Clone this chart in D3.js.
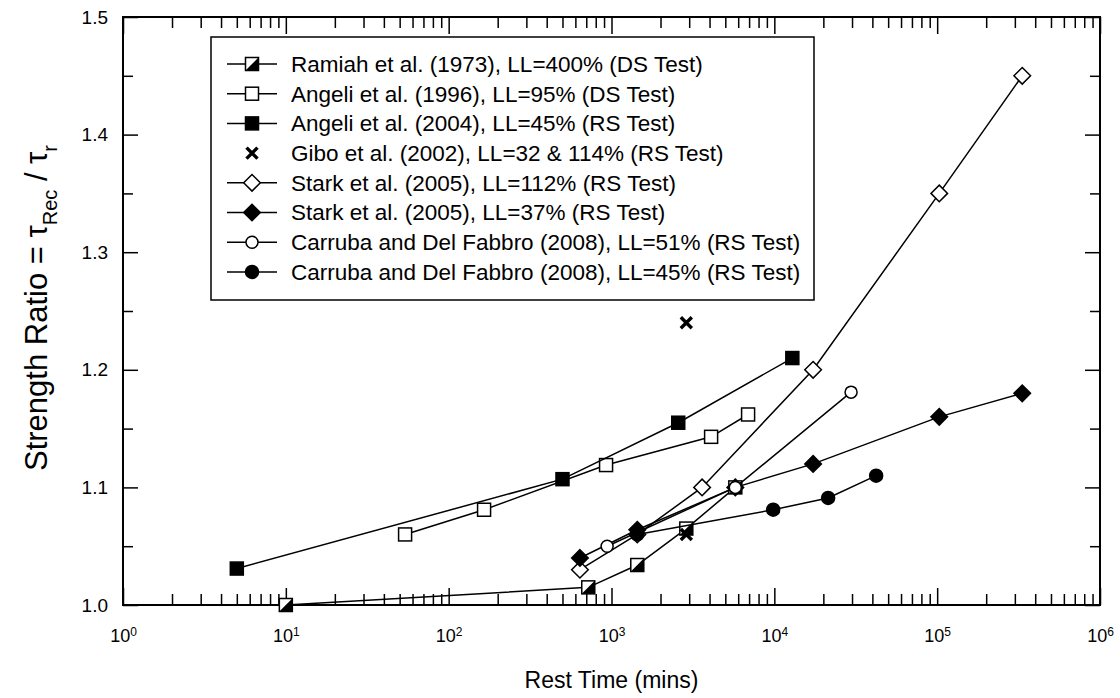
<!DOCTYPE html>
<html>
<head>
<meta charset="utf-8">
<script src="https://cdn.jsdelivr.net/npm/d3@7"></script>
<style>
    body { margin: 0; background: #fff; }
    svg { font-family: "Liberation Sans", Arial, sans-serif; }
</style>
</head>
<body>
<svg id="chart" width="1120" height="698"></svg>
<script>
// rest time (mins) and strength ratio
const ramiahX = [10, 720, 1440, 2880, 5760];
const ramiahY = [1.0, 1.015, 1.034, 1.065, 1.1];
const angeli96X = [54, 165, 926, 4090, 6900];
const angeli96Y = [1.06, 1.081, 1.119, 1.143, 1.162];
const angeli04X = [5, 500, 2570, 12900];
const angeli04Y = [1.031, 1.107, 1.155, 1.21];
const giboX = [2880, 2880];
const giboY = [1.24, 1.06];
const starkOpenX = [640, 1440, 3600, 17300, 103000, 333000];
const starkOpenY = [1.03, 1.06, 1.1, 1.2, 1.35, 1.45];
const starkFillX = [640, 1440, 5760, 17300, 103000, 333000];
const starkFillY = [1.04, 1.064, 1.1, 1.12, 1.16, 1.18];
const carrOpenX = [940, 5760, 29600];
const carrOpenY = [1.05, 1.1, 1.181];
const carrFillX = [1440, 9840, 21400, 42200];
const carrFillY = [1.06, 1.081, 1.091, 1.11];

const legendLabels = [
    'Ramiah et al. (1973), LL=400% (DS Test)',
    'Angeli et al. (1996), LL=95% (DS Test)',
    'Angeli et al. (2004), LL=45% (RS Test)',
    'Gibo et al. (2002), LL=32 & 114% (RS Test)',
    'Stark et al. (2005), LL=112% (RS Test)',
    'Stark et al. (2005), LL=37% (RS Test)',
    'Carruba and Del Fabbro (2008), LL=51% (RS Test)',
    'Carruba and Del Fabbro (2008), LL=45% (RS Test)'
];
const markerTypes = ['halfsquare', 'opensquare', 'fillsquare', 'cross', 'opendiamond', 'filldiamond', 'opencircle', 'fillcircle'];

const yTicks = [1.0, 1.1, 1.2, 1.3, 1.4, 1.5];
const yMinorTicks = [1.05, 1.15, 1.25, 1.35, 1.45];
const xTicks = [1, 10, 100, 1000, 10000, 100000, 1000000];

const zip = (xs, ys) => xs.map((v, i) => [v, ys[i]]);
const series = [
    { pts: zip(ramiahX, ramiahY), line: true },
    { pts: zip(angeli96X, angeli96Y), line: true },
    { pts: zip(angeli04X, angeli04Y), line: true },
    { pts: zip(giboX, giboY), line: false },
    { pts: zip(starkOpenX, starkOpenY), line: true },
    { pts: zip(starkFillX, starkFillY), line: true },
    { pts: zip(carrOpenX, carrOpenY), line: true },
    { pts: zip(carrFillX, carrFillY), line: true }
];

const svg = d3.select('#chart');
const plotLeft = 123, plotRight = 1100, plotTop = 17, plotBottom = 605;

const x = d3.scaleLog().domain([1, 1e6]).range([plotLeft, plotRight]);
const y = d3.scaleLinear().domain([1.0, 1.5]).range([plotBottom, plotTop]);

// minor x ticks 2..9 in every decade
const xMinorTicks = [];
for (let e = 0; e < 6; e++) {
    for (let k = 2; k <= 9; k++) xMinorTicks.push(k * Math.pow(10, e));
}

function styleAxis(g) {
    g.select('.domain').remove();
    g.selectAll('line').attr('stroke', '#000').attr('stroke-width', 1.5);
}

// bottom axis with 10^n labels
svg.append('g')
    .attr('transform', `translate(0,${plotBottom})`)
    .call(d3.axisBottom(x).tickValues(xTicks).tickSizeInner(-17).tickSizeOuter(0).tickPadding(24).tickFormat(''))
    .call(styleAxis)
    .selectAll('.tick text')
    .attr('font-size', 18)
    .attr('fill', '#000')
    .each(function (d) {
        const t = d3.select(this);
        t.text('10');
        t.append('tspan').attr('font-size', 12).attr('dy', '-0.5em').text(Math.round(Math.log10(d)));
    });
svg.append('g')
    .attr('transform', `translate(0,${plotBottom})`)
    .call(d3.axisBottom(x).tickValues(xMinorTicks).tickSizeInner(-11).tickSizeOuter(0).tickFormat(''))
    .call(styleAxis);

// top axis
svg.append('g')
    .attr('transform', `translate(0,${plotTop})`)
    .call(d3.axisTop(x).tickValues(xTicks).tickSizeInner(-17).tickSizeOuter(0).tickFormat(''))
    .call(styleAxis);
svg.append('g')
    .attr('transform', `translate(0,${plotTop})`)
    .call(d3.axisTop(x).tickValues(xMinorTicks).tickSizeInner(-11).tickSizeOuter(0).tickFormat(''))
    .call(styleAxis);

// left axis
svg.append('g')
    .attr('transform', `translate(${plotLeft},0)`)
    .call(d3.axisLeft(y).tickValues(yTicks).tickSizeInner(-15).tickSizeOuter(0).tickPadding(15).tickFormat(d3.format('.1f')))
    .call(styleAxis)
    .selectAll('.tick text')
    .attr('font-size', 19)
    .attr('fill', '#000');
svg.append('g')
    .attr('transform', `translate(${plotLeft},0)`)
    .call(d3.axisLeft(y).tickValues(yMinorTicks).tickSizeInner(-10).tickSizeOuter(0).tickFormat(''))
    .call(styleAxis);

// right axis
svg.append('g')
    .attr('transform', `translate(${plotRight},0)`)
    .call(d3.axisRight(y).tickValues(yTicks).tickSizeInner(-15).tickSizeOuter(0).tickFormat(''))
    .call(styleAxis);
svg.append('g')
    .attr('transform', `translate(${plotRight},0)`)
    .call(d3.axisRight(y).tickValues(yMinorTicks).tickSizeInner(-10).tickSizeOuter(0).tickFormat(''))
    .call(styleAxis);

// frame
svg.append('rect')
    .attr('x', plotLeft).attr('y', plotTop)
    .attr('width', plotRight - plotLeft).attr('height', plotBottom - plotTop)
    .attr('fill', 'none').attr('stroke', '#000').attr('stroke-width', 2);

// draw one marker of a given type at (cx, cy)
function drawMarker(g, type, cx, cy) {
    const m = g.append('g').attr('transform', `translate(${cx},${cy})`);
    const s = 6.5;
    if (type === 'halfsquare') {
        m.append('rect').attr('x', -s).attr('y', -s).attr('width', 2 * s).attr('height', 2 * s)
            .attr('fill', '#fff').attr('stroke', '#000').attr('stroke-width', 1.5);
        m.append('path').attr('d', `M${s},${-s}L${s},${s}L${-s},${s}Z`).attr('fill', '#000');
    } else if (type === 'opensquare' || type === 'fillsquare') {
        m.append('rect').attr('x', -s).attr('y', -s).attr('width', 2 * s).attr('height', 2 * s)
            .attr('fill', type === 'fillsquare' ? '#000' : '#fff').attr('stroke', '#000').attr('stroke-width', 1.5);
    } else if (type === 'cross') {
        const c = 5.5;
        m.append('path').attr('d', `M${-c},${-c}L${c},${c}M${-c},${c}L${c},${-c}`)
            .attr('stroke', '#000').attr('stroke-width', 3.4).attr('fill', 'none');
    } else if (type === 'opendiamond' || type === 'filldiamond') {
        const d = 8.3;
        m.append('path').attr('d', `M0,${-d}L${d},0L0,${d}L${-d},0Z`)
            .attr('fill', type === 'filldiamond' ? '#000' : '#fff').attr('stroke', '#000').attr('stroke-width', 1.5);
    } else {
        m.append('circle').attr('r', type === 'fillcircle' ? 6.5 : 6)
            .attr('fill', type === 'fillcircle' ? '#000' : '#fff').attr('stroke', '#000').attr('stroke-width', 1.5);
    }
}

const line = d3.line().x(d => x(d[0])).y(d => y(d[1]));
const plot = svg.append('g');

series.forEach((s, i) => {
    if (s.line) {
        plot.append('path').datum(s.pts).attr('d', line)
            .attr('fill', 'none').attr('stroke', '#000').attr('stroke-width', 1.5);
    }
    s.pts.forEach(p => drawMarker(plot, markerTypes[i], x(p[0]), y(p[1])));
});

// legend
const legend = svg.append('g');
legend.append('rect')
    .attr('x', 211).attr('y', 37).attr('width', 603).attr('height', 263)
    .attr('fill', '#fff').attr('stroke', '#000').attr('stroke-width', 1.5);
legendLabels.forEach((label, i) => {
    const ly = 64 + i * 29.7;
    if (markerTypes[i] !== 'cross') {
        legend.append('line').attr('x1', 227).attr('x2', 277).attr('y1', ly).attr('y2', ly)
            .attr('stroke', '#000').attr('stroke-width', 1.5);
    }
    drawMarker(legend, markerTypes[i], 252, ly);
    legend.append('text').attr('x', 291).attr('y', ly).attr('dy', '0.35em')
        .attr('font-size', 22.5).attr('fill', '#000').text(label);
});

// axis titles
svg.append('text')
    .attr('x', (plotLeft + plotRight) / 2).attr('y', 688)
    .attr('text-anchor', 'middle').attr('font-size', 23).attr('fill', '#000')
    .text('Rest Time (mins)');

const yTitle = svg.append('text')
    .attr('transform', 'translate(47,308) rotate(-90)')
    .attr('text-anchor', 'middle').attr('font-size', 31).attr('fill', '#000');
yTitle.append('tspan').text('Strength Ratio = τ');
yTitle.append('tspan').attr('font-size', 20).attr('dy', 10).text('Rec');
yTitle.append('tspan').attr('dy', -10).text(' / τ');
yTitle.append('tspan').attr('font-size', 20).attr('dy', 10).text('r');
</script>
</body>
</html>
